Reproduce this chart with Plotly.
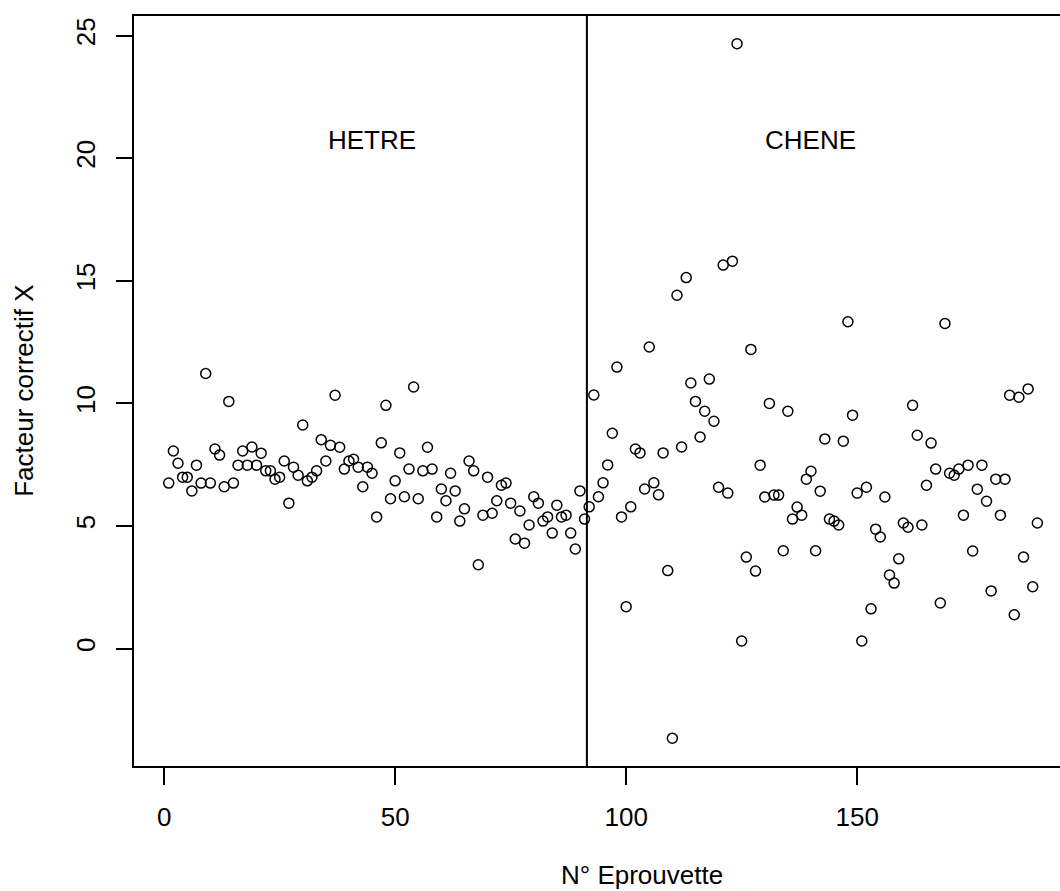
import plotly.graph_objects as go

# Facteur correctif X par éprouvette
hetre = [6.75, 8.06, 7.56, 6.99, 6.99, 6.43, 7.48, 6.75, 11.22, 6.75,
         8.14, 7.89, 6.60, 10.08, 6.75, 7.48, 8.06, 7.48, 8.22, 7.48,
         7.97, 7.25, 7.25, 6.91, 6.99, 7.65, 5.93, 7.40, 7.07, 9.12,
         6.84, 6.99, 7.25, 8.52, 7.65, 8.29, 10.33, 8.21, 7.32, 7.65,
         7.72, 7.40, 6.60, 7.40, 7.15, 5.37, 8.39, 9.92, 6.11, 6.84,
         7.98, 6.19, 7.32, 10.67, 6.11, 7.25, 8.21, 7.32, 5.37, 6.51,
         6.03, 7.15, 6.43, 5.20, 5.70, 7.65, 7.25, 3.42, 5.44, 6.99,
         5.52, 6.03, 6.66, 6.75, 5.93, 4.47, 5.61, 4.30, 5.04, 6.19,
         5.93, 5.20, 5.37, 4.71, 5.85, 5.37, 5.44, 4.71, 4.06, 6.43,
         5.28]
chene = [5.78, 10.34, 6.19, 6.76, 7.49, 8.78, 11.48, 5.37, 1.71, 5.78,
         8.14, 7.98, 6.51, 12.30, 6.76, 6.27, 7.98, 3.18, -3.66, 14.41,
         8.22, 15.13, 10.83, 10.08, 8.63, 9.68, 10.99, 9.27, 6.58, 15.64,
         6.34, 15.80, 24.67, 0.31, 3.73, 12.20, 3.16, 7.48, 6.18, 10.00,
         6.26, 6.26, 3.99, 9.68, 5.28, 5.77, 5.44, 6.91, 7.23, 3.99,
         6.42, 8.55, 5.28, 5.20, 5.04, 8.46, 13.33, 9.52, 6.34, 0.31,
         6.58, 1.62, 4.87, 4.55, 6.18, 3.00, 2.67, 3.66, 5.12, 4.95,
         9.92, 8.70, 5.04, 6.66, 8.38, 7.32, 1.86, 13.26, 7.15, 7.07,
         7.32, 5.44, 7.48, 3.98, 6.50, 7.48, 6.01, 2.35, 6.91, 5.44,
         6.91, 10.33, 1.38, 10.25, 3.73, 10.59, 2.52, 5.12]

values = hetre + chene
eprouvette = list(range(1, len(values) + 1))
separation = len(hetre) + 0.5
group_labels = ["HETRE", "CHENE"]
group_label_x = [45, 140]
group_label_y = 20.75
x_ticks = [0, 50, 100, 150]
y_ticks = [0, 5, 10, 15, 20, 25]

FONT = "Liberation Sans, Arial, Helvetica, sans-serif"
FS = 26

fig = go.Figure()
fig.add_trace(go.Scatter(
    x=eprouvette, y=values, mode="markers",
    marker=dict(symbol="circle-open", size=10, color="black",
                line=dict(color="black", width=1.5)),
    showlegend=False, hoverinfo="x+y",
))

fig.add_shape(type="line", xref="x", yref="paper",
              x0=separation, x1=separation, y0=0, y1=1,
              line=dict(color="black", width=2))

for lab, lx in zip(group_labels, group_label_x):
    fig.add_annotation(x=lx, y=group_label_y, xref="x", yref="y",
                       text=lab, showarrow=False,
                       font=dict(family=FONT, size=FS, color="black"))

fig.add_annotation(x=0.5486, y=-0.145, xref="paper", yref="paper",
                   text="N° Eprouvette", showarrow=False,
                   xanchor="center", yanchor="middle",
                   font=dict(family=FONT, size=FS, color="black"))
fig.add_annotation(x=-0.119, y=0.5, xref="paper", yref="paper",
                   text="Facteur correctif X", showarrow=False,
                   textangle=-90, xanchor="center", yanchor="middle",
                   font=dict(family=FONT, size=FS, color="black"))

fig.update_layout(
    width=1060, height=891,
    margin=dict(l=134, r=0, t=16, b=125),
    paper_bgcolor="white", plot_bgcolor="white",
    font=dict(family=FONT, size=FS, color="black"),
    xaxis=dict(range=[-6.52, 193.9], tickvals=x_ticks,
               showgrid=False, zeroline=False,
               showline=True, linecolor="black", linewidth=2, mirror=True,
               ticks="outside", ticklen=17, tickwidth=2, tickcolor="black",
               ticklabelstandoff=10,
               tickfont=dict(family=FONT, size=FS, color="black")),
    yaxis=dict(range=[-4.79, 25.8], tickvals=y_ticks,
               showgrid=False, zeroline=False,
               showline=True, linecolor="black", linewidth=2,
               ticks="outside", ticklen=16, tickwidth=2, tickcolor="black",
               tickangle=-90, ticklabelstandoff=11,
               tickfont=dict(family=FONT, size=FS, color="black")),
)

fig.write_html(
    "out.html",
    config={"displayModeBar": False},
    post_script="document.body.style.margin='0';document.body.style.overflow='hidden';",
)
